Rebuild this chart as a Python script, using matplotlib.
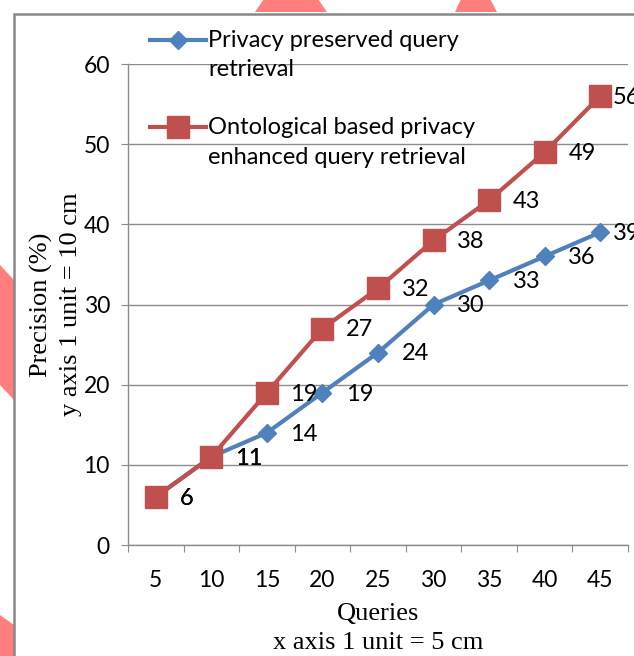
import matplotlib
matplotlib.use("Agg")
import matplotlib.pyplot as plt
from matplotlib.patches import Polygon, Rectangle
from matplotlib.lines import Line2D

queries = [5, 10, 15, 20, 25, 30, 35, 40, 45]
privacy_preserved = [6, 11, 14, 19, 24, 30, 33, 36, 39]
ontological = [6, 11, 19, 27, 32, 38, 43, 49, 56]
series_names = ["Privacy preserved query\nretrieval",
                "Ontological based privacy\nenhanced query retrieval"]
yticks = [0, 10, 20, 30, 40, 50, 60]

BLUE = "#4F81BD"
RED = "#C0504D"
PINK = "#FF7F7F"
W, H = 634, 656
SANS = ["Lato", "DejaVu Sans"]
SERIF = ["Liberation Serif", "DejaVu Serif"]

fig = plt.figure(figsize=(W / 100, H / 100), dpi=100)

def fx(x):
    return x / W

def fy(y):
    return 1 - y / H

# background pink shapes
for pts in [
    [(255, 12), (327, 12), (305, -20), (277, -20)],
    [(455, 12), (497, 12), (480, -20), (470, -20)],
    [(0, 265), (14, 280), (14, 400), (0, 385)],
    [(0, 615), (14, 625), (14, 656), (0, 656)],
]:
    fig.patches.append(Polygon([(fx(a), fy(b)) for a, b in pts], closed=True,
                               transform=fig.transFigure, facecolor=PINK,
                               edgecolor="none", zorder=0))
fig.patches.append(Rectangle((fx(14), fy(700)), fx(700), fy(14) - fy(700),
                             transform=fig.transFigure, facecolor="white",
                             edgecolor="#888888", linewidth=1.8, zorder=1))

left, right, top, bottom = 128, 628, 64, 545
ax = fig.add_axes([fx(left), fy(bottom), fx(right - left), fy(top) - fy(bottom)])
ax.set_zorder(2)
ax.patch.set_alpha(0)

n = len(queries)
idx = list(range(1, n + 1))
ax.set_xlim(0.5, n + 0.5)
ax.set_ylim(0, 60)

ax.plot(idx, privacy_preserved, color=BLUE, lw=3, marker="D", markersize=9.5,
        markerfacecolor=BLUE, markeredgecolor=BLUE, zorder=3, clip_on=False)
ax.plot(idx, ontological, color=RED, lw=3, marker="s", markersize=15.5,
        markerfacecolor=RED, markeredgecolor=RED, zorder=4, clip_on=False)

for series in (privacy_preserved, ontological):
    for i, v in zip(idx, series):
        off = 9 if i == n else 17
        ax.annotate(str(v), (i, v), xytext=(off, -1), textcoords="offset points",
                    ha="left", va="center", fontsize=17, family=SANS,
                    color="black", zorder=5, annotation_clip=False)

# grid
ax.set_yticks(yticks)
ax.yaxis.grid(True, color="#8c8c8c", lw=1)
ax.set_axisbelow(True)
for s in ("top", "right"):
    ax.spines[s].set_visible(False)
for s in ("left", "bottom"):
    ax.spines[s].set_color("#8c8c8c")
    ax.spines[s].set_linewidth(1)

ax.set_xticks([k + 0.5 for k in range(0, n + 1)])
ax.set_xticklabels([])
ax.set_xticks(idx, minor=True)
ax.set_xticklabels([str(q) for q in queries], minor=True, fontsize=16.5, family=SANS)
ax.tick_params(axis="x", which="major", direction="out", length=5, color="#8c8c8c")
ax.tick_params(axis="x", which="minor", length=0, pad=18)
ax.tick_params(axis="y", direction="out", length=5, color="#8c8c8c", pad=8,
               labelsize=16.5)
for lab in ax.get_yticklabels():
    lab.set_family(SANS)

ax.set_ylabel("Precision (%)\ny axis 1 unit = 10 cm", family=SERIF, fontsize=19,
              linespacing=1.4, labelpad=1)
ax.set_xlabel("Queries\nx axis 1 unit = 5 cm", family=SERIF, fontsize=19,
              linespacing=1.4, labelpad=9)

# manual legend
for (name, color, mk, ms, ycen) in [(series_names[0], BLUE, "D", 9.5, 40),
                                    (series_names[1], RED, "s", 15.5, 127)]:
    fig.add_artist(Line2D([fx(150), fx(206)], [fy(ycen), fy(ycen)], color=color,
                          lw=3, transform=fig.transFigure, zorder=6))
    fig.add_artist(Line2D([fx(178)], [fy(ycen)], color=color, marker=mk,
                          markersize=ms, transform=fig.transFigure, zorder=6))
    fig.text(fx(208), fy(ycen - 10), name, ha="left", va="top", fontsize=17,
             family=SANS, linespacing=1.5, zorder=6)

fig.savefig("out.png", dpi=100)
